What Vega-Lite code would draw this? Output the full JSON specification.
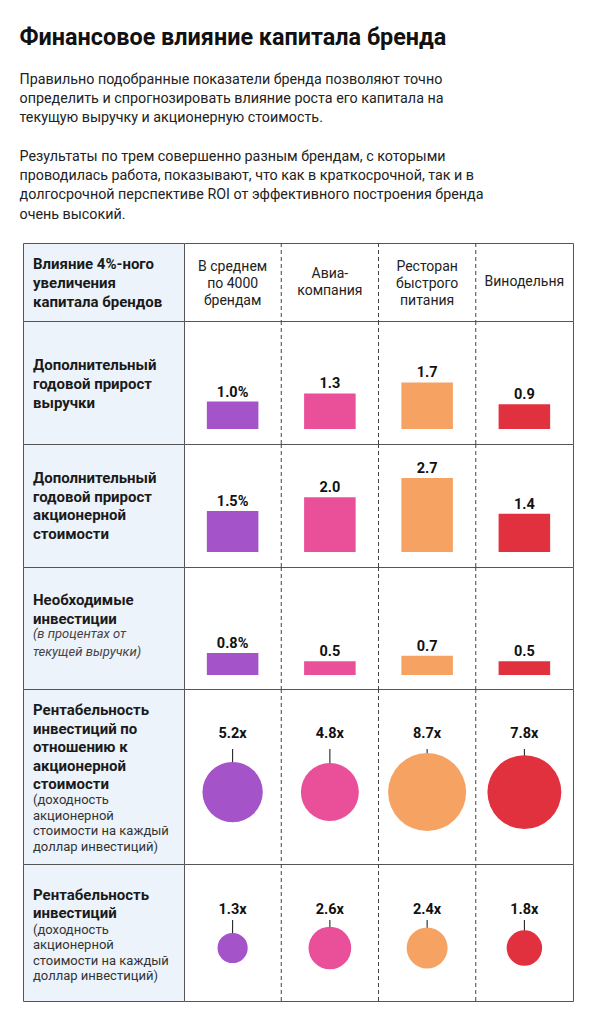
{
  "$schema": "https://vega.github.io/schema/vega-lite/v6.json",
  "padding": {"left": 19, "top": 26, "right": 0, "bottom": 0},
  "background": "white",
  "columns": 2,
  "spacing": 0,
  "bounds": "flush",
  "title": {
    "text": "Финансовое влияние капитала бренда",
    "subtitle": [
      "Правильно подобранные показатели бренда позволяют точно",
      "определить и спрогнозировать влияние роста его капитала на",
      "текущую выручку и акционерную стоимость.",
      "\u2800",
      "Результаты по трем совершенно разным брендам, с которыми",
      "проводилась работа, показывают, что как в краткосрочной, так и в",
      "долгосрочной перспективе ROI от эффективного построения бренда",
      "очень высокий."
    ],
    "anchor": "start",
    "dx": -3,
    "font": "Roboto",
    "fontSize": 23.4,
    "fontWeight": "bold",
    "color": "#111111",
    "subtitleFont": "Roboto",
    "subtitleFontSize": 14.3,
    "subtitleFontWeight": 400,
    "subtitleColor": "#222222",
    "subtitleLineHeight": 19.3,
    "subtitlePadding": 22,
    "offset": 19
  },
  "datasets": {
    "brands": [
      {"brand": "avg", "name": "В среднем\nпо 4000\nбрендам"},
      {"brand": "air", "name": "Авиа-\nкомпания"},
      {"brand": "fast", "name": "Ресторан\nбыстрого\nпитания"},
      {"brand": "wine", "name": "Винодельня"}
    ],
    "cells": [
      {"metric": "rev", "brand": "avg", "value": 1.0, "label": "1.0%"},
      {"metric": "rev", "brand": "air", "value": 1.3, "label": "1.3"},
      {"metric": "rev", "brand": "fast", "value": 1.7, "label": "1.7"},
      {"metric": "rev", "brand": "wine", "value": 0.9, "label": "0.9"},
      {"metric": "shv", "brand": "avg", "value": 1.5, "label": "1.5%"},
      {"metric": "shv", "brand": "air", "value": 2.0, "label": "2.0"},
      {"metric": "shv", "brand": "fast", "value": 2.7, "label": "2.7"},
      {"metric": "shv", "brand": "wine", "value": 1.4, "label": "1.4"},
      {"metric": "inv", "brand": "avg", "value": 0.8, "label": "0.8%"},
      {"metric": "inv", "brand": "air", "value": 0.5, "label": "0.5"},
      {"metric": "inv", "brand": "fast", "value": 0.7, "label": "0.7"},
      {"metric": "inv", "brand": "wine", "value": 0.5, "label": "0.5"},
      {"metric": "roisv", "brand": "avg", "value": 5.2, "label": "5.2x"},
      {"metric": "roisv", "brand": "air", "value": 4.8, "label": "4.8x"},
      {"metric": "roisv", "brand": "fast", "value": 8.7, "label": "8.7x"},
      {"metric": "roisv", "brand": "wine", "value": 7.8, "label": "7.8x"},
      {"metric": "roi", "brand": "avg", "value": 1.3, "label": "1.3x"},
      {"metric": "roi", "brand": "air", "value": 2.6, "label": "2.6x"},
      {"metric": "roi", "brand": "fast", "value": 2.4, "label": "2.4x"},
      {"metric": "roi", "brand": "wine", "value": 1.8, "label": "1.8x"}
    ],
    "labels": [
      {"metric": "head", "kind": "bold", "text": "Влияние 4%-ного\nувеличения\nкапитала брендов"},
      {"metric": "rev", "kind": "bold", "text": "Дополнительный\nгодовой прирост\nвыручки"},
      {"metric": "shv", "kind": "bold", "text": "Дополнительный\nгодовой прирост\nакционерной\nстоимости"},
      {"metric": "inv", "kind": "bold", "text": "Необходимые\nинвестиции"},
      {"metric": "inv", "kind": "italic", "text": "(в процентах от\nтекущей выручки)"},
      {"metric": "roisv", "kind": "bold", "text": "Рентабельность\nинвестиций по\nотношению к\nакционерной\nстоимости"},
      {"metric": "roisv", "kind": "note", "text": "(доходность\nакционерной\nстоимости на каждый\nдоллар инвестиций)"},
      {"metric": "roi", "kind": "bold", "text": "Рентабельность\nинвестиций"},
      {"metric": "roi", "kind": "note", "text": "(доходность\nакционерной\nстоимости на каждый\nдоллар инвестиций)"}
    ]
  },
  "concat": [
    {
      "width": 161, "height": 78,
      "view": {"stroke": "#555555", "fill": "#ecf3fb"},
      "data": {"name": "labels"},
      "transform": [{"filter": "datum.metric === 'head'"}],
      "mark": {"type": "text", "align": "left", "baseline": "middle", "dx": -70.5, "dy": -18, "lineBreak": "\n", "lineHeight": 19, "fontWeight": "bold", "fontSize": 15, "color": "#1a1a1a"},
      "encoding": {"text": {"field": "text"}}
    },
    {
      "width": 389, "height": 78,
      "view": {"stroke": "#555555", "fill": "white"},
      "data": {"name": "brands"},
      "encoding": {
        "x": {"field": "brand", "type": "nominal", "scale": {"domain": ["avg", "air", "fast", "wine"], "paddingInner": 0, "paddingOuter": 0}, "axis": null},
        "text": {"field": "name"}
      },
      "layer": [
        {
          "transform": [{"filter": "datum.brand !== 'wine'"}],
          "mark": {"type": "rule", "strokeDash": [4, 3], "color": "#444444", "strokeWidth": 1},
          "encoding": {"x": {"field": "brand", "type": "nominal", "bandPosition": 1}, "text": null}
        },
        {
          "transform": [{"filter": "datum.brand === 'avg' || datum.brand === 'fast'"}],
          "mark": {"type": "text", "baseline": "middle", "dy": -15, "lineBreak": "\n", "lineHeight": 17, "fontSize": 14, "color": "#222222"}
        },
        {
          "transform": [{"filter": "datum.brand === 'air'"}],
          "mark": {"type": "text", "baseline": "middle", "dy": -8, "lineBreak": "\n", "lineHeight": 17, "fontSize": 14, "color": "#222222"}
        },
        {
          "transform": [{"filter": "datum.brand === 'wine'"}],
          "mark": {"type": "text", "baseline": "middle", "dy": 0, "fontSize": 14, "color": "#222222"}
        }
      ]
    },
    {
      "width": 161, "height": 123,
      "view": {"stroke": "#555555", "fill": "#ecf3fb"},
      "data": {"name": "labels"},
      "transform": [{"filter": "datum.metric === 'rev'"}],
      "mark": {"type": "text", "align": "left", "baseline": "middle", "dx": -70.5, "dy": -17.5, "lineBreak": "\n", "lineHeight": 19, "fontWeight": "bold", "fontSize": 15, "color": "#1a1a1a"},
      "encoding": {"text": {"field": "text"}}
    },
    {
      "width": 389, "height": 123,
      "view": {"stroke": "#555555", "fill": "white"},
      "data": {"name": "cells"},
      "transform": [{"filter": "datum.metric === 'rev'"}],
      "encoding": {
        "x": {"field": "brand", "type": "nominal", "scale": {"domain": ["avg", "air", "fast", "wine"], "paddingInner": 0, "paddingOuter": 0}, "axis": null}
      },
      "layer": [
        {
          "transform": [{"filter": "datum.brand !== 'wine'"}],
          "mark": {"type": "rule", "strokeDash": [4, 3], "color": "#444444", "strokeWidth": 1},
          "encoding": {"x": {"field": "brand", "type": "nominal", "bandPosition": 1}}
        },
        {
          "mark": {"type": "bar", "width": {"band": 0.53}},
          "encoding": {
            "y": {"field": "value", "type": "quantitative", "scale": {"domain": [-0.547, 3.942], "nice": false, "zero": false}, "axis": null},
            "y2": {"datum": 0},
            "color": {"field": "brand", "type": "nominal", "scale": {"domain": ["avg", "air", "fast", "wine"], "range": ["#a453c9", "#ea4f9a", "#f5a263", "#e1313f"]}, "legend": null}
          }
        },
        {
          "mark": {"type": "text", "baseline": "alphabetic", "dy": -5, "fontWeight": "bold", "fontSize": 14.5, "color": "#111111"},
          "encoding": {"y": {"field": "value", "type": "quantitative"}, "text": {"field": "label"}}
        }
      ]
    },
    {
      "width": 161, "height": 123,
      "view": {"stroke": "#555555", "fill": "#ecf3fb"},
      "data": {"name": "labels"},
      "transform": [{"filter": "datum.metric === 'shv'"}],
      "mark": {"type": "text", "align": "left", "baseline": "middle", "dx": -70.5, "dy": -27.5, "lineBreak": "\n", "lineHeight": 18.7, "fontWeight": "bold", "fontSize": 15, "color": "#1a1a1a"},
      "encoding": {"text": {"field": "text"}}
    },
    {
      "width": 389, "height": 123,
      "view": {"stroke": "#555555", "fill": "white"},
      "data": {"name": "cells"},
      "transform": [{"filter": "datum.metric === 'shv'"}],
      "encoding": {
        "x": {"field": "brand", "type": "nominal", "scale": {"domain": ["avg", "air", "fast", "wine"], "paddingInner": 0, "paddingOuter": 0}, "axis": null}
      },
      "layer": [
        {
          "transform": [{"filter": "datum.brand !== 'wine'"}],
          "mark": {"type": "rule", "strokeDash": [4, 3], "color": "#444444", "strokeWidth": 1},
          "encoding": {"x": {"field": "brand", "type": "nominal", "bandPosition": 1}}
        },
        {
          "mark": {"type": "bar", "width": {"band": 0.53}},
          "encoding": {
            "y": {"field": "value", "type": "quantitative", "scale": {"domain": [-0.547, 3.942], "nice": false, "zero": false}, "axis": null},
            "y2": {"datum": 0},
            "color": {"field": "brand", "type": "nominal", "scale": {"domain": ["avg", "air", "fast", "wine"], "range": ["#a453c9", "#ea4f9a", "#f5a263", "#e1313f"]}, "legend": null}
          }
        },
        {
          "mark": {"type": "text", "baseline": "alphabetic", "dy": -5, "fontWeight": "bold", "fontSize": 14.5, "color": "#111111"},
          "encoding": {"y": {"field": "value", "type": "quantitative"}, "text": {"field": "label"}}
        }
      ]
    },
    {
      "width": 161, "height": 122,
      "view": {"stroke": "#555555", "fill": "#ecf3fb"},
      "data": {"name": "labels"},
      "transform": [{"filter": "datum.metric === 'inv'"}],
      "encoding": {"text": {"field": "text"}},
      "layer": [
        {
          "transform": [{"filter": "datum.kind === 'bold'"}],
          "mark": {"type": "text", "align": "left", "baseline": "middle", "dx": -70.5, "dy": -28, "lineBreak": "\n", "lineHeight": 19, "fontWeight": "bold", "fontSize": 15, "color": "#1a1a1a"}
        },
        {
          "transform": [{"filter": "datum.kind === 'italic'"}],
          "mark": {"type": "text", "align": "left", "baseline": "middle", "dx": -70.5, "dy": 6, "lineBreak": "\n", "lineHeight": 17.5, "fontStyle": "italic", "fontSize": 13, "color": "#444444"}
        }
      ]
    },
    {
      "width": 389, "height": 122,
      "view": {"stroke": "#555555", "fill": "white"},
      "data": {"name": "cells"},
      "transform": [{"filter": "datum.metric === 'inv'"}],
      "encoding": {
        "x": {"field": "brand", "type": "nominal", "scale": {"domain": ["avg", "air", "fast", "wine"], "paddingInner": 0, "paddingOuter": 0}, "axis": null}
      },
      "layer": [
        {
          "transform": [{"filter": "datum.brand !== 'wine'"}],
          "mark": {"type": "rule", "strokeDash": [4, 3], "color": "#444444", "strokeWidth": 1},
          "encoding": {"x": {"field": "brand", "type": "nominal", "bandPosition": 1}}
        },
        {
          "mark": {"type": "bar", "width": {"band": 0.53}},
          "encoding": {
            "y": {"field": "value", "type": "quantitative", "scale": {"domain": [-0.511, 3.942], "nice": false, "zero": false}, "axis": null},
            "y2": {"datum": 0},
            "color": {"field": "brand", "type": "nominal", "scale": {"domain": ["avg", "air", "fast", "wine"], "range": ["#a453c9", "#ea4f9a", "#f5a263", "#e1313f"]}, "legend": null}
          }
        },
        {
          "mark": {"type": "text", "baseline": "alphabetic", "dy": -5, "fontWeight": "bold", "fontSize": 14.5, "color": "#111111"},
          "encoding": {"y": {"field": "value", "type": "quantitative"}, "text": {"field": "label"}}
        }
      ]
    },
    {
      "width": 161, "height": 175,
      "view": {"stroke": "#555555", "fill": "#ecf3fb"},
      "data": {"name": "labels"},
      "transform": [{"filter": "datum.metric === 'roisv'"}],
      "encoding": {"text": {"field": "text"}},
      "layer": [
        {
          "transform": [{"filter": "datum.kind === 'bold'"}],
          "mark": {"type": "text", "align": "left", "baseline": "middle", "dx": -70.5, "dy": -66.5, "lineBreak": "\n", "lineHeight": 18.5, "fontWeight": "bold", "fontSize": 15, "color": "#1a1a1a"}
        },
        {
          "transform": [{"filter": "datum.kind === 'note'"}],
          "mark": {"type": "text", "align": "left", "baseline": "middle", "dx": -70.5, "dy": 23.5, "lineBreak": "\n", "lineHeight": 15.7, "fontSize": 13, "color": "#333333"}
        }
      ]
    },
    {
      "width": 389, "height": 175,
      "view": {"stroke": "#555555", "fill": "white"},
      "data": {"name": "cells"},
      "transform": [{"filter": "datum.metric === 'roisv'"}],
      "encoding": {
        "x": {"field": "brand", "type": "nominal", "scale": {"domain": ["avg", "air", "fast", "wine"], "paddingInner": 0, "paddingOuter": 0}, "axis": null}
      },
      "layer": [
        {
          "transform": [{"filter": "datum.brand !== 'wine'"}],
          "mark": {"type": "rule", "strokeDash": [4, 3], "color": "#444444", "strokeWidth": 1},
          "encoding": {"x": {"field": "brand", "type": "nominal", "bandPosition": 1}}
        },
        {
          "mark": {"type": "rule", "color": "#111111", "strokeWidth": 1},
          "encoding": {
            "y": {"datum": 0.657, "type": "quantitative", "scale": {"domain": [0, 1], "nice": false, "zero": false}, "axis": null},
            "y2": {"datum": 0.411}
          }
        },
        {
          "mark": {"type": "circle", "opacity": 1},
          "encoding": {
            "y": {"datum": 0.411, "type": "quantitative"},
            "size": {"field": "value", "type": "quantitative", "scale": {"domain": [0, 10], "range": [0, 7000], "zero": true}, "legend": null},
            "color": {"field": "brand", "type": "nominal", "scale": {"domain": ["avg", "air", "fast", "wine"], "range": ["#a453c9", "#ea4f9a", "#f5a263", "#e1313f"]}, "legend": null}
          }
        },
        {
          "mark": {"type": "text", "baseline": "alphabetic", "fontWeight": "bold", "fontSize": 14.5, "color": "#111111"},
          "encoding": {"y": {"datum": 0.72, "type": "quantitative"}, "text": {"field": "label"}}
        }
      ]
    },
    {
      "width": 161, "height": 137,
      "view": {"stroke": "#555555", "fill": "#ecf3fb"},
      "data": {"name": "labels"},
      "transform": [{"filter": "datum.metric === 'roi'"}],
      "encoding": {"text": {"field": "text"}},
      "layer": [
        {
          "transform": [{"filter": "datum.kind === 'bold'"}],
          "mark": {"type": "text", "align": "left", "baseline": "middle", "dx": -70.5, "dy": -37.5, "lineBreak": "\n", "lineHeight": 18, "fontWeight": "bold", "fontSize": 15, "color": "#1a1a1a"}
        },
        {
          "transform": [{"filter": "datum.kind === 'note'"}],
          "mark": {"type": "text", "align": "left", "baseline": "middle", "dx": -70.5, "dy": -2.5, "lineBreak": "\n", "lineHeight": 15.3, "fontSize": 13, "color": "#333333"}
        }
      ]
    },
    {
      "width": 389, "height": 137,
      "view": {"stroke": "#555555", "fill": "white"},
      "data": {"name": "cells"},
      "transform": [{"filter": "datum.metric === 'roi'"}],
      "encoding": {
        "x": {"field": "brand", "type": "nominal", "scale": {"domain": ["avg", "air", "fast", "wine"], "paddingInner": 0, "paddingOuter": 0}, "axis": null}
      },
      "layer": [
        {
          "transform": [{"filter": "datum.brand !== 'wine'"}],
          "mark": {"type": "rule", "strokeDash": [4, 3], "color": "#444444", "strokeWidth": 1},
          "encoding": {"x": {"field": "brand", "type": "nominal", "bandPosition": 1}}
        },
        {
          "mark": {"type": "rule", "color": "#111111", "strokeWidth": 1},
          "encoding": {
            "y": {"datum": 0.591, "type": "quantitative", "scale": {"domain": [0, 1], "nice": false, "zero": false}, "axis": null},
            "y2": {"datum": 0.387}
          }
        },
        {
          "mark": {"type": "circle", "opacity": 1},
          "encoding": {
            "y": {"datum": 0.387, "type": "quantitative"},
            "size": {"field": "value", "type": "quantitative", "scale": {"domain": [1, 3], "range": [350, 1750], "zero": false}, "legend": null},
            "color": {"field": "brand", "type": "nominal", "scale": {"domain": ["avg", "air", "fast", "wine"], "range": ["#a453c9", "#ea4f9a", "#f5a263", "#e1313f"]}, "legend": null}
          }
        },
        {
          "mark": {"type": "text", "baseline": "alphabetic", "fontWeight": "bold", "fontSize": 14.5, "color": "#111111"},
          "encoding": {"y": {"datum": 0.635, "type": "quantitative"}, "text": {"field": "label"}}
        }
      ]
    }
  ],
  "config": {
    "font": "Roboto",
    "concat": {"spacing": 0},
    "view": {"stroke": null}
  }
}
